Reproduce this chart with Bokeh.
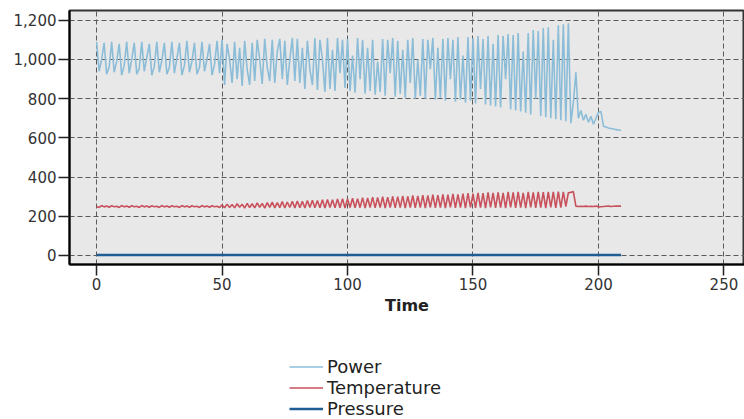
from bokeh.plotting import figure
from bokeh.models import Legend, LegendItem, NumeralTickFormatter, FixedTicker, Range1d
from bokeh.layouts import column
from bokeh.embed import file_html
from bokeh.resources import INLINE

# ---- data ----
time = list(range(210))

power = [
    1090, 940, 1000, 1085, 925, 960, 1090, 935, 990, 1080,
    920, 970, 1090, 930, 1000, 1085, 925, 955, 1090, 940,
    1010, 1080, 920, 965, 1090, 935, 995, 1085, 925, 960,
    1090, 930, 1005, 1085, 920, 970, 1095, 935, 990, 1085,
    925, 960, 1090, 940, 1000, 1080, 920, 975, 1095, 930,
    1100, 870, 1080, 1000, 880, 1090, 900, 1060, 865, 1095,
    950, 870, 1085, 890, 1100, 1000, 875, 1105, 960, 890,
    1100, 880, 1040, 1105, 900, 1095, 870, 1000, 1110, 890,
    1105, 880, 1060, 850, 1095, 950, 870, 1110, 845, 1100,
    1000, 835, 1110, 850, 1050, 840, 1110, 930, 1100, 855,
    1105, 840, 1020, 830, 1110, 900, 1100, 825, 1060, 840,
    1100, 820, 990, 835, 1105, 815, 1100, 930, 1110, 810,
    1095, 825, 1050, 805, 1100, 880, 1110, 800, 1000, 815,
    1105, 800, 1100, 950, 1110, 795, 1060, 805, 1105, 790,
    1110, 900, 1100, 785, 1115, 795, 1020, 780, 1115, 790,
    1110, 775, 1120, 850, 1105, 770, 1120, 765, 1080, 760,
    1125, 755, 1120, 900, 1130, 745, 1125, 740, 1135, 735,
    1040, 728, 1135, 720, 1150, 800, 1145, 710, 1160, 705,
    1165, 700, 1100, 695, 1175, 690, 1180, 685, 1185, 675,
    780, 935, 700, 740, 690, 720, 680, 710, 670, 700,
    730, 735, 660, 655, 650, 648, 645, 642, 640, 638,
]

temperature = [
    250, 245, 255, 248, 252, 246, 254, 249, 251, 245,
    255, 248, 252, 246, 254, 249, 251, 245, 255, 248,
    252, 246, 254, 249, 251, 245, 255, 248, 252, 246,
    254, 249, 251, 245, 255, 248, 252, 246, 254, 249,
    251, 245, 255, 248, 252, 246, 254, 249, 251, 245,
    258, 244, 262, 245, 260, 243, 264, 246, 262, 242,
    266, 245, 264, 243, 268, 246, 266, 242, 270, 245,
    272, 243, 270, 244, 275, 242, 273, 245, 276, 243,
    278, 244, 276, 242, 280, 245, 282, 243, 280, 244,
    284, 242, 286, 245, 284, 243, 288, 244, 290, 242,
    288, 245, 292, 243, 290, 244, 295, 242, 293, 245,
    298, 243, 296, 244, 300, 242, 298, 245, 302, 243,
    300, 244, 304, 242, 302, 245, 306, 243, 304, 244,
    308, 242, 306, 245, 310, 243, 308, 244, 312, 242,
    310, 245, 314, 243, 312, 244, 316, 242, 318, 245,
    316, 243, 320, 244, 318, 242, 322, 245, 320, 243,
    322, 244, 320, 242, 324, 245, 322, 243, 324, 244,
    320, 242, 324, 245, 322, 243, 325, 244, 323, 242,
    325, 245, 324, 243, 326, 244, 325, 250, 320, 322,
    326, 252, 250, 251, 250, 252, 250, 251, 250, 252,
    248, 249, 250, 251, 252, 250, 251, 252, 252, 252,
]

pressure = [
    2, 2, 2, 2, 2, 2, 2, 2, 2, 2,
    2, 2, 2, 2, 2, 2, 2, 2, 2, 2,
    2, 2, 2, 2, 2, 2, 2, 2, 2, 2,
    2, 2, 2, 2, 2, 2, 2, 2, 2, 2,
    2, 2, 2, 2, 2, 2, 2, 2, 2, 2,
    2, 2, 2, 2, 2, 2, 2, 2, 2, 2,
    2, 2, 2, 2, 2, 2, 2, 2, 2, 2,
    2, 2, 2, 2, 2, 2, 2, 2, 2, 2,
    2, 2, 2, 2, 2, 2, 2, 2, 2, 2,
    2, 2, 2, 2, 2, 2, 2, 2, 2, 2,
    2, 2, 2, 2, 2, 2, 2, 2, 2, 2,
    2, 2, 2, 2, 2, 2, 2, 2, 2, 2,
    2, 2, 2, 2, 2, 2, 2, 2, 2, 2,
    2, 2, 2, 2, 2, 2, 2, 2, 2, 2,
    2, 2, 2, 2, 2, 2, 2, 2, 2, 2,
    2, 2, 2, 2, 2, 2, 2, 2, 2, 2,
    2, 2, 2, 2, 2, 2, 2, 2, 2, 2,
    2, 2, 2, 2, 2, 2, 2, 2, 2, 2,
    2, 2, 2, 2, 2, 2, 2, 2, 2, 2,
    2, 2, 2, 2, 2, 2, 2, 2, 2, 2,
    2, 2, 2, 2, 2, 2, 2, 2, 2, 2,
]

series_names = ["Power", "Temperature", "Pressure"]
series_colors = ["#8cbdd8", "#c9515c", "#1f5d94"]
series_widths = [1.6, 1.6, 2.5]
x_ticks = [0, 50, 100, 150, 200, 250]
y_ticks = [0, 200, 400, 600, 800, 1000, 1200]

FONT = "DejaVu Sans"

# ---------------- main chart ----------------
p = figure(
    width=744, height=317,
    output_backend="svg", toolbar_location=None,
    x_range=Range1d(-10.8, 258.2), y_range=Range1d(-46, 1250),
    min_border_left=69, min_border_right=0, min_border_top=10, min_border_bottom=53,
    background_fill_color="#e8e8e8", border_fill_color="white",
)
p.outline_line_color = "#333333"
p.outline_line_width = 2

for g in (p.xgrid, p.ygrid):
    g.grid_line_color = "#5a5a5a"
    g.grid_line_dash = "5 3"
    g.grid_line_width = 1
p.xgrid.ticker = FixedTicker(ticks=x_ticks)
p.ygrid.ticker = FixedTicker(ticks=y_ticks)

p.xaxis.ticker = FixedTicker(ticks=x_ticks)
p.yaxis.ticker = FixedTicker(ticks=y_ticks)
p.yaxis.formatter = NumeralTickFormatter(format="0,0")
for ax in (p.xaxis[0], p.yaxis[0]):
    ax.axis_line_color = "black"
    ax.axis_line_width = 2
    ax.major_tick_line_color = "#222222"
    ax.major_tick_line_width = 1.5
    ax.major_tick_out = 11
    ax.major_tick_in = 0
    ax.minor_tick_line_color = None
    ax.major_label_text_font = FONT
    ax.major_label_text_font_size = "15px"
    ax.major_label_text_color = "#333333"
    ax.major_label_standoff = 2
p.xaxis.axis_label = "Time"
p.xaxis.axis_label_text_font = FONT
p.xaxis.axis_label_text_font_size = "16px"
p.xaxis.axis_label_text_font_style = "bold"
p.xaxis.axis_label_text_color = "#222222"
p.xaxis.axis_label_standoff = 3

series_values = [power, temperature, pressure]
for vals, col, w in zip(series_values, series_colors, series_widths):
    p.line(time, vals, line_color=col, line_width=w)

# ---------------- legend strip below ----------------
q = figure(
    width=744, height=102,
    output_backend="svg", toolbar_location=None,
    x_range=Range1d(0, 1), y_range=Range1d(0, 1),
    min_border=0, outline_line_color=None,
    background_fill_color="white", border_fill_color="white",
)
q.axis.visible = False
q.grid.visible = False

# legend-only renderers: their points lie outside the visible range
items = []
for name, col, w in zip(series_names, series_colors, series_widths):
    r = q.line([5, 6], [5, 6], line_color=col, line_width=w)
    items.append(LegendItem(label=name, renderers=[r]))

legend = Legend(
    items=items,
    location=(220, 0),
    orientation="vertical",
    background_fill_alpha=0, border_line_color=None,
    padding=0, margin=0, spacing=0,
    glyph_width=34, glyph_height=21, label_height=21,
    label_standoff=4,
    label_text_font=FONT, label_text_font_size="18px", label_text_color="#222222",
)
q.add_layout(legend)

layout = column(p, q, spacing=0)
open("out.html", "w").write(file_html(layout, INLINE))
